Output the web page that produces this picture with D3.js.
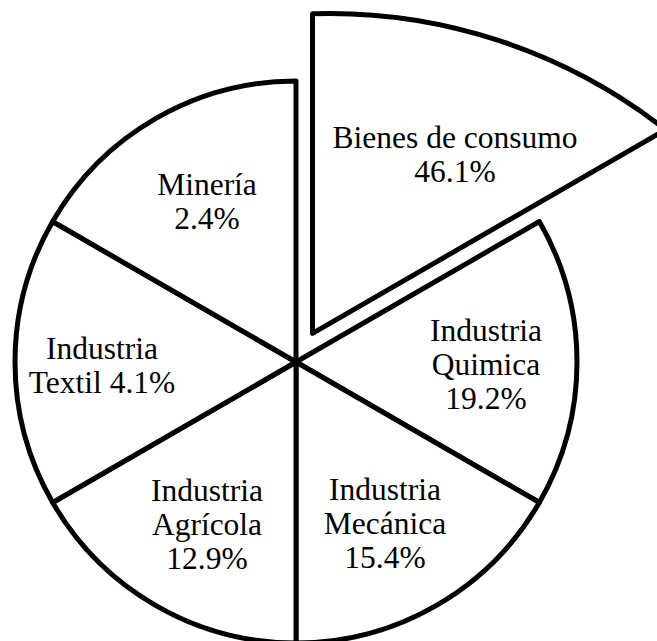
<!DOCTYPE html>
<html>
<head>
<meta charset="utf-8">
<script src="https://cdn.jsdelivr.net/npm/d3@7"></script>
<style>
  body { margin: 0; background: #fff; }
  .slice { fill: #fff; stroke: #000; stroke-width: 5; stroke-linejoin: round; }
  .lbl { font-family: "Liberation Serif", "Times New Roman", serif; font-size: 31.5px; fill: #000; }
</style>
</head>
<body>
<div id="svgHolderDiv"></div>
<script>
"use strict";

// slices, clockwise from 12 o'clock (all drawn at equal angles in the original)
var categories = ["Bienes de consumo", "Industria Quimica", "Industria Mecánica",
                  "Industria Agrícola", "Industria Textil", "Minería"];
var shares = [46.1, 19.2, 15.4, 12.9, 4.1, 2.4];
var labelRows = [["Bienes de consumo"], ["Industria", "Quimica"], ["Industria", "Mecánica"],
                 ["Industria", "Agrícola"], ["Industria", "Textil"], ["Minería"]];
var pctInline = [false, false, false, false, true, false];
var explodedIndex = 0;

function renderMyChart() {
    var svg = d3.select("#svgHolderDiv").append("svg")
        .attr("width", 657)
        .attr("height", 641),
        cx = 296, cy = 362,
        radius = 281,
        explode = 33,
        labelR = 186,
        lineGap = 34;

    // small hand nudges so labels sit where the original put them
    var nudge = [[0, 0], [4, 2], [-4, 0], [4, 1], [-8, 3], [4, 0]];

    var pie = d3.pie().sort(null).value(function () { return 1; });
    var arcs = pie(shares);

    var arc = d3.arc().innerRadius(0).outerRadius(radius);
    var labelArc = d3.arc().innerRadius(labelR).outerRadius(labelR);

    var g = svg.append("g")
        .attr("transform", "translate(" + cx + "," + cy + ")");

    // regular slices
    g.selectAll(".slice")
        .data(arcs.filter(function (d) { return d.index !== explodedIndex; }))
        .enter().append("path")
        .attr("class", "slice")
        .attr("d", arc);

    // pulled-out slice: apex moved along the bisector, outer edge on a wider circle
    var big = arcs[explodedIndex],
        mid = (big.startAngle + big.endAngle) / 2,
        vx = explode * Math.sin(mid),
        vy = -explode * Math.cos(mid),
        ox = 17, oy = 224, R = 544;   // wide circle centre relative to apex, radius

    function hit(a) {
        var dx = Math.sin(a), dy = -Math.cos(a),
            dot = dx * ox + dy * oy,
            t = dot + Math.sqrt(dot * dot - (ox * ox + oy * oy) + R * R);
        return [vx + t * dx, vy + t * dy];
    }
    var p0 = hit(big.startAngle), p1 = hit(big.endAngle),
        ccx = vx + ox, ccy = vy + oy;
    var p = d3.path();
    p.moveTo(vx, vy);
    p.lineTo(p0[0], p0[1]);
    p.arc(ccx, ccy, R, Math.atan2(p0[1] - ccy, p0[0] - ccx), Math.atan2(p1[1] - ccy, p1[0] - ccx), false);
    p.closePath();
    g.append("path")
        .attr("class", "slice")
        .attr("d", p.toString());

    // labels
    arcs.forEach(function (d) {
        var i = d.index,
            pct = shares[i].toFixed(1) + "%",
            lines = labelRows[i].slice(),
            pos;
        if (pctInline[i]) lines[lines.length - 1] += " " + pct;
        else lines.push(pct);

        if (i === explodedIndex) {
            var a = 38.5 * Math.PI / 180;
            pos = [vx + 229 * Math.sin(a), vy - 229 * Math.cos(a)];
        } else {
            pos = labelArc.centroid(d);
        }
        pos = [pos[0] + nudge[i][0], pos[1] + nudge[i][1]];

        var txt = g.append("text")
            .attr("class", "lbl")
            .attr("text-anchor", "middle")
            .attr("x", pos[0])
            .attr("y", pos[1] - (lines.length - 1) * lineGap / 2);
        lines.forEach(function (s, k) {
            txt.append("tspan")
                .attr("x", pos[0])
                .attr("dy", k === 0 ? "0.35em" : lineGap)
                .text(s);
        });
    });
}

renderMyChart();
</script>
</body>
</html>
